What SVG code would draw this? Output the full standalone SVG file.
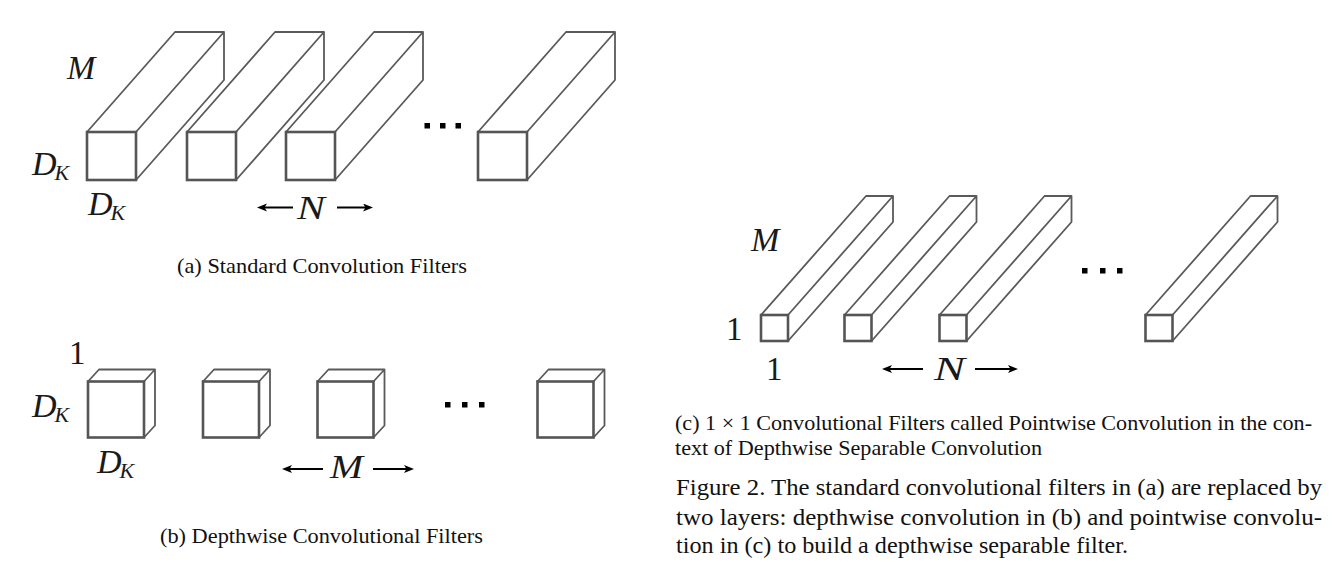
<svg xmlns="http://www.w3.org/2000/svg" width="1342" height="573" viewBox="0 0 1342 573">
<style>
.edge{fill:none;stroke:#5a5a5a;stroke-width:1.8;stroke-linejoin:round;stroke-linecap:round}
.front{fill:none;stroke:#555;stroke-width:2.6}
.math{font-family:"Liberation Serif",serif;font-style:italic;font-size:34px;fill:#1a1a1a}
.num{font-family:"Liberation Serif",serif;font-size:33px;fill:#1a1a1a}
.sub{font-size:22px}
.cap{font-family:"Liberation Serif",serif;font-size:21px;fill:#111}
.fig{font-family:"Liberation Serif",serif;font-size:24px;fill:#111}
.arrow{stroke:#000;stroke-width:2;marker-end:url(#ah)}
.dot{fill:#000}
</style>
<defs>
<marker id="ah" markerUnits="userSpaceOnUse" markerWidth="12" markerHeight="10" refX="3" refY="4" orient="auto">
<path d="M0,0 L10,4 L0,8 L2.5,4 Z" fill="#000"/>
</marker>
<g id="barA">
<path class="edge" d="M0,0 L88,-100 L137,-100 L49,0 M137,-100 L137,-52 L49,48"/>
<rect class="front" x="0" y="0" width="49" height="48"/>
</g>
<g id="cubeB">
<path class="edge" d="M0,0 L11,-12 L67,-12 L56,0 M67,-12 L67,44 L56,56"/>
<rect class="front" x="0" y="0" width="56" height="56"/>
</g>
<g id="barC">
<path class="edge" d="M0,0 L105,-119 L132,-119 L27,0 M132,-119 L132,-93 L27,26"/>
<rect class="front" x="0" y="0" width="27" height="26"/>
</g>
</defs>
<rect x="0" y="0" width="1342" height="573" fill="#fff"/>

<!-- Panel (a) -->
<g id="a-filter-1"><use href="#barA" x="87" y="132"/></g>
<g id="a-filter-2"><use href="#barA" x="187" y="132"/></g>
<g id="a-filter-3"><use href="#barA" x="286" y="132"/></g>
<g id="a-filter-n"><use href="#barA" x="478" y="132"/></g>
<g id="a-dots">
<rect class="dot" x="424.5" y="123" width="5.5" height="5.5"/>
<rect class="dot" x="440" y="123" width="5.5" height="5.5"/>
<rect class="dot" x="455.5" y="123" width="5.5" height="5.5"/>
</g>
<g id="a-labels">
<text class="math" x="67" y="79">M</text>
<text class="math" x="32" y="175">D<tspan class="sub" dx="-2" dy="5">K</tspan></text>
<text class="math" x="88" y="215">D<tspan class="sub" dx="-2" dy="5">K</tspan></text>
<text class="math" x="297" y="219" textLength="28" lengthAdjust="spacingAndGlyphs">N</text>
<text class="cap" x="177" y="273" textLength="290" lengthAdjust="spacingAndGlyphs">(a)  Standard Convolution Filters</text>
</g>

<!-- Panel (b) -->
<g id="b-filter-1"><use href="#cubeB" x="88" y="381.5"/></g>
<g id="b-filter-2"><use href="#cubeB" x="203" y="381.5"/></g>
<g id="b-filter-3"><use href="#cubeB" x="317.5" y="381.5"/></g>
<g id="b-filter-m"><use href="#cubeB" x="537.5" y="381.5"/></g>
<g id="b-dots">
<rect class="dot" x="445" y="402" width="5.5" height="5.5"/>
<rect class="dot" x="462" y="402" width="5.5" height="5.5"/>
<rect class="dot" x="479" y="402" width="5.5" height="5.5"/>
</g>
<g id="b-labels">
<text class="num" x="69" y="364">1</text>
<text class="math" x="32" y="417">D<tspan class="sub" dx="-2" dy="5">K</tspan></text>
<text class="math" x="97" y="473">D<tspan class="sub" dx="-2" dy="5">K</tspan></text>
<text class="math" x="330" y="478" textLength="33" lengthAdjust="spacingAndGlyphs">M</text>
<text class="cap" x="160" y="543" textLength="323" lengthAdjust="spacingAndGlyphs">(b)  Depthwise Convolutional Filters</text>
</g>

<!-- Panel (c) -->
<g id="c-filter-1"><use href="#barC" x="761" y="315"/></g>
<g id="c-filter-2"><use href="#barC" x="844.5" y="315"/></g>
<g id="c-filter-3"><use href="#barC" x="939.5" y="315"/></g>
<g id="c-filter-n"><use href="#barC" x="1145.5" y="315"/></g>
<g id="c-dots">
<rect class="dot" x="1082" y="268" width="5.5" height="5.5"/>
<rect class="dot" x="1100" y="268" width="5.5" height="5.5"/>
<rect class="dot" x="1117" y="268" width="5.5" height="5.5"/>
</g>
<g id="c-labels">
<text class="math" x="751" y="251">M</text>
<text class="num" x="726" y="340">1</text>
<text class="num" x="766" y="380">1</text>
<text class="math" x="934" y="380" textLength="31" lengthAdjust="spacingAndGlyphs">N</text>
<text class="cap" x="675" y="430" textLength="637" lengthAdjust="spacingAndGlyphs">(c)  1 × 1 Convolutional Filters called Pointwise Convolution in the con-</text>
<text class="cap" x="675" y="455" textLength="367" lengthAdjust="spacingAndGlyphs">text of Depthwise Separable Convolution</text>
</g>

<!-- Connectors (dimension arrows) -->
<g id="connectors">
<line class="arrow" x1="293" y1="207.5" x2="264" y2="207.5"/>
<line class="arrow" x1="337" y1="207.5" x2="366" y2="207.5"/>
<line class="arrow" x1="323" y1="469" x2="289" y2="469"/>
<line class="arrow" x1="373" y1="469" x2="407" y2="469"/>
<line class="arrow" x1="923" y1="369" x2="889" y2="369"/>
<line class="arrow" x1="975" y1="369" x2="1011" y2="369"/>
</g>

<!-- Figure caption -->
<g id="figure-caption">
<text class="fig" x="676" y="495" textLength="646" lengthAdjust="spacingAndGlyphs">Figure 2. The standard convolutional filters in (a) are replaced by</text>
<text class="fig" x="676" y="525" textLength="646" lengthAdjust="spacingAndGlyphs">two layers:  depthwise convolution in (b) and pointwise convolu-</text>
<text class="fig" x="676" y="553" textLength="452" lengthAdjust="spacingAndGlyphs">tion in (c) to build a depthwise separable filter.</text>
</g>
</svg>
